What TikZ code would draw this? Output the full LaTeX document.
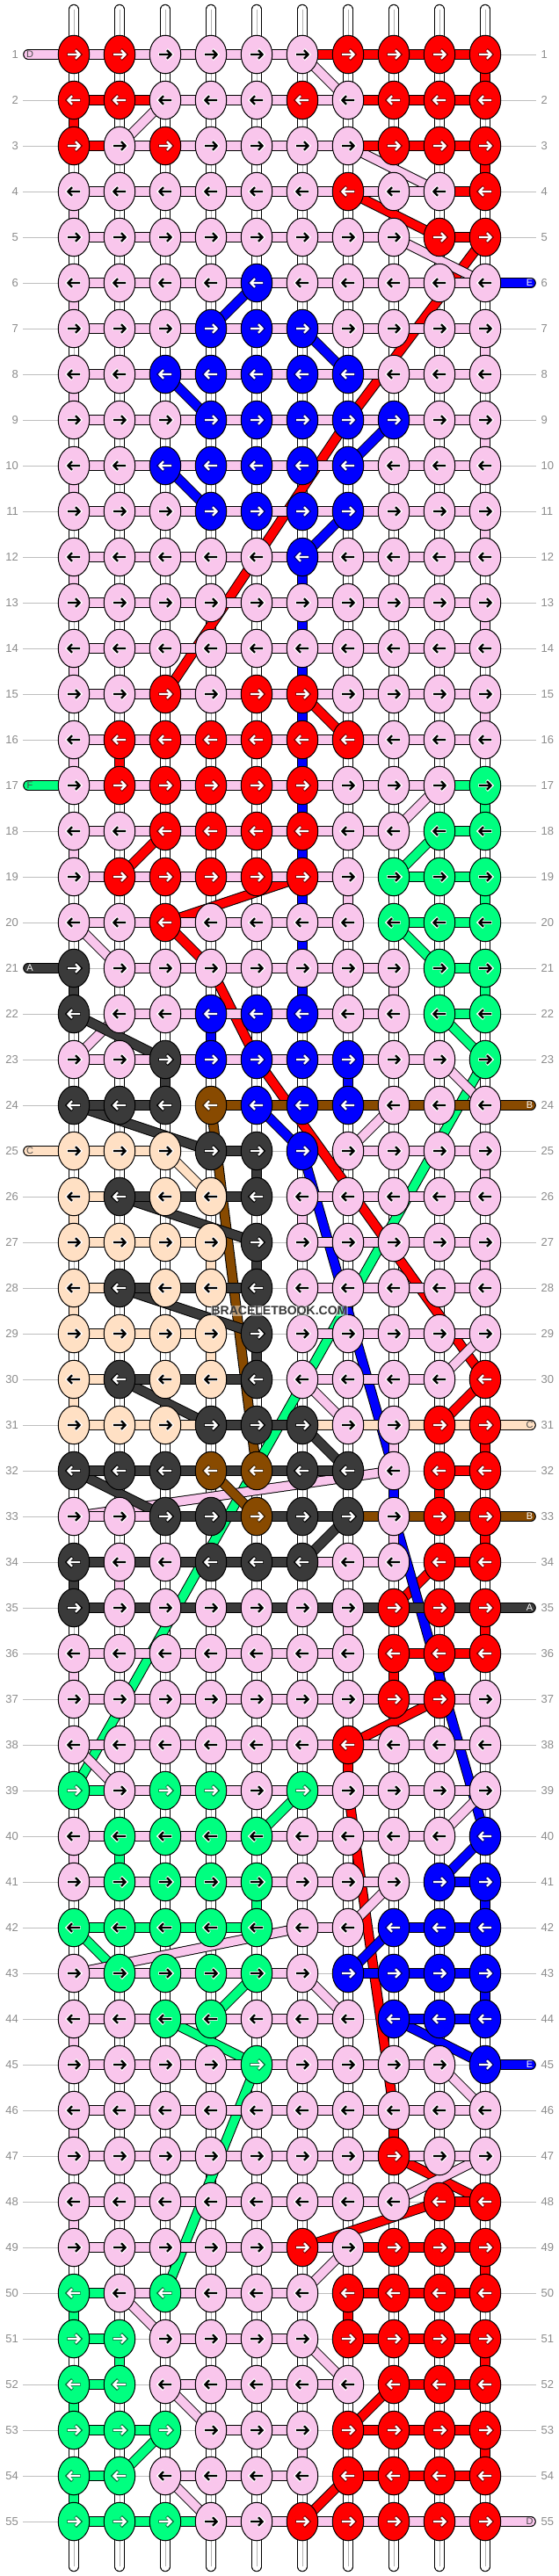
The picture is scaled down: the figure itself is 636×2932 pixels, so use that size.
\documentclass[tikz,border=0pt]{standalone}
\usepackage{fontspec}
\setmainfont{Liberation Sans}
\usetikzlibrary{shapes.geometric}
\pgfdeclarelayer{bg}\pgfsetlayers{bg,main}
\definecolor{cP}{RGB}{249,198,236}
\definecolor{cR}{RGB}{255,0,0}
\definecolor{cB}{RGB}{0,0,255}
\definecolor{cG}{RGB}{0,255,128}
\colorlet{cg}{cG}
\definecolor{cK}{RGB}{58,58,58}
\definecolor{cF}{RGB}{255,224,196}
\definecolor{cN}{RGB}{136,74,0}
\definecolor{labelgrey}{RGB}{140,140,140}
\definecolor{guidegrey}{RGB}{190,190,190}
% arrow halo and ink per knot colour
\colorlet{hP}{white}\colorlet{iP}{black}
\colorlet{hF}{white}\colorlet{iF}{black}
\colorlet{hG}{white}\colorlet{iG}{black}
\colorlet{hg}{black!55!cG}\colorlet{ig}{white}
\colorlet{hR}{black!50!cR}\colorlet{iR}{white}
\colorlet{hB}{black!50!cB}\colorlet{iB}{white}
\colorlet{hK}{black}\colorlet{iK}{white}
\colorlet{hN}{black!50!cN}\colorlet{iN}{white}
\tikzset{
  knot/.style={ellipse,draw=black,line width=1pt,minimum width=35.5pt,minimum height=43.5pt,inner sep=0pt},
  strand/.style={draw=black,line width=1pt,double=#1,double distance=9.6pt},
  core/.style={draw=black!30,line width=.7pt},
  guide/.style={draw=guidegrey,line width=1pt},
  rowlabel/.style={text=labelgrey,inner sep=0pt,font=\fontsize{13}{15}\selectfont},
  tailmark/.style={inner sep=0pt,font=\fontsize{11}{13}\selectfont},
}
\newcount\cc
\newcount\dd
\def\endwalk{\endwalk}
\def\walkA#1{\ifx#1\endwalk\else\bodyA{#1}\expandafter\walkA\fi}
\def\walkB#1{\ifx#1\endwalk\else\bodyB{#1}\expandafter\walkB\fi}
\def\bodyA#1{%
  \global\advance\cc by 1
  \node[knot,fill=c#1] (k-\rr-\the\cc) at ({84+52*(\the\cc-1)},{62+52*(\rr-1)}) {};
  \begin{scope}[shift={(k-\rr-\the\cc.center)},xscale=\ss,line cap=butt,miter limit=10]
    \draw[color=h#1,line width=3.9pt] (-7.6,0)--(7.6,0) (1.6,-5.6)--(7.4,0)--(1.6,5.6);
    \draw[color=i#1,line width=2.3pt] (-7,0)--(6.6,0) (2,-4.8)--(6.6,0)--(2,4.8);
  \end{scope}}
\def\bodyB#1{%
  \global\advance\cc by 1
  \dd=\cc \advance\dd by 1
  \ifx#1.\else\draw[strand=c#1] (k-\rr-\the\cc.center) -- (k-\rr-\the\dd.center);\fi}
\def\RowsAll{%
\Rw{1}{RRPPPPRRRR}{PPPPPRRRR}%
\Rw{2}{RRPPPRPRRR}{RRPPPPRRR}%
\Rw{3}{RPRPPPPRRR}{RPPPPPRRR}%
\Rw{4}{PPPPPPRPPR}{PPPPPPPPR}%
\Rw{5}{PPPPPPPPRR}{PPPPPPP.R}%
\Rw{6}{PPPPBPPPPP}{PPPPPPPPP}%
\Rw{7}{PPPBBBPPPP}{PPPPPPPPP}%
\Rw{8}{PPBBBBBPPP}{PPPPPPPPP}%
\Rw{9}{PPPBBBBBPP}{PPPPPPPPP}%
\Rw{10}{PPBBBBBPPP}{PPPPPPPPP}%
\Rw{11}{PPPBBBBPPP}{PPPPPPPPP}%
\Rw{12}{PPPPPBPPPP}{PPPPPPPPP}%
\Rw{13}{PPPPPPPPPP}{PPPPPPPPP}%
\Rw{14}{PPPPPPPPPP}{PPPPPPPPP}%
\Rw{15}{PPRPRRPPPP}{PPPPPPPPP}%
\Rw{16}{PRRRRRRPPP}{PPPPPPPPP}%
\Rw{17}{PRRRRRPPPG}{PPPPPPPPG}%
\Rw{18}{PPRRRRPPGG}{PPPPPPP.G}%
\Rw{19}{PRRRRRPGGG}{PPPPPP.GG}%
\Rw{20}{PPRPPPPGGG}{PPPPPP.GG}%
\Rw{21}{KPPPPPPPGG}{.PPPPPP.G}%
\Rw{22}{KPPBBBPPGG}{.PPPPPP.G}%
\Rw{23}{PPKBBBBPPG}{PPPPPPPP.}%
\Rw{24}{KKKNBBBPPP}{KK.NNNNNN}%
\Rw{25}{FFFKKBPPPP}{FF.K..PPP}%
\Rw{26}{FKFFKPPPPP}{FKKK.PPPP}%
\Rw{27}{FFFFKPPPPP}{FFF..PPPP}%
\Rw{28}{FKFFKPPPPP}{FKKK.PPPP}%
\Rw{29}{FFFFKPPPPP}{FFF..PPPP}%
\Rw{30}{FKFFKPPPPR}{FKKK.PPP.}%
\Rw{31}{FFFKKKPPRR}{FFFKKFFFF}%
\Rw{32}{KKKNNKKPRR}{KKKKKK..R}%
\Rw{33}{PPKKNKKPRR}{PPKKKKNNN}%
\Rw{34}{KPPKKKPPRR}{KKKKKPP.R}%
\Rw{35}{KPPPPPPRRR}{KKKKKKKKK}%
\Rw{36}{PPPPPPPRRR}{PPPPPP.RR}%
\Rw{37}{PPPPPPPRRP}{PPPPPPPPP}%
\Rw{38}{PPPPPPRPPP}{PPPPPPPPP}%
\Rw{39}{gPggPgPPPP}{GPPPPPPPP}%
\Rw{40}{PGGGGPPPPB}{PPPPPPPP.}%
\Rw{41}{PGGGGPPPBB}{PPPPPPP.B}%
\Rw{42}{GGGGGPPBBB}{GGGG.P.BB}%
\Rw{43}{PGGGGPBBBB}{PPPPP.BBB}%
\Rw{44}{PPGGPPPBBB}{PPPPPP.BB}%
\Rw{45}{PPPPgPPPPB}{PPPPPPPP.}%
\Rw{46}{PPPPPPPPPP}{PPPPPPPPP}%
\Rw{47}{PPPPPPPRPP}{PPPPPPPPP}%
\Rw{48}{PPPPPPPPRR}{PPPPPPP.R}%
\Rw{49}{PPPPPRPRRR}{PPPPPPRRR}%
\Rw{50}{gPgPPPRRRR}{GPPPP.RRR}%
\Rw{51}{ggPPPPRRRR}{G.PPP.RRR}%
\Rw{52}{ggPPPPPRRR}{G.PPPP.RR}%
\Rw{53}{gggPPPRRRR}{GG.PP.RRR}%
\Rw{54}{ggPPPPRRRR}{G.PPP.RRR}%
\Rw{55}{gggPPRRRRR}{GGGPPPPPP}%
}
\begin{document}
\begin{tikzpicture}[x=1pt,y=-1pt]
\useasboundingbox (0,0) rectangle (636,2932);
% knots and arrows
\def\Rw#1#2#3{\def\rr{#1}\ifodd#1 \def\ss{1}\else\def\ss{-1}\fi\global\cc=0 \walkA#2\endwalk}
\RowsAll
% row labels, guide ends, strand ends
\foreach \r in {1,...,55}{
  \pgfmathsetmacro\yy{62+52*(\r-1)}
  \node[rowlabel,anchor=east] (ll-\r) at (21,\yy) {\r};
  \node[rowlabel,anchor=west] (lr-\r) at (615.5,\yy) {\r};
  \coordinate (gl-\r) at (26,\yy);
  \coordinate (gr-\r) at (610,\yy);
}
\foreach \c in {1,...,10}{
  \pgfmathsetmacro\xx{84+52*(\c-1)}
  \coordinate (top-\c) at (\xx,10.6);
  \coordinate (bot-\c) at (\xx,2921.4);
}
\foreach \r/\s/\l/\t in {1/P/D/black!70,17/G/F/black!70,21/K/A/white,25/F/C/black!70}{
  \pgfmathsetmacro\yy{62+52*(\r-1)}
  \coordinate (tl-\r) at (32,\yy);
  \node[tailmark,text=\t] (ml-\r) at (34,\yy) {\l};
}
\foreach \r/\s/\l/\t in {6/B/E/white,24/N/B/white,31/F/C/black!70,33/N/B/white,35/K/A/white,45/B/E/white,55/P/D/black!70}{
  \pgfmathsetmacro\yy{62+52*(\r-1)}
  \coordinate (tr-\r) at (604,\yy);
  \node[tailmark,text=\t] (mr-\r) at (602.5,\yy) {\l};
}
\node[inner sep=1pt,fill=white,fill opacity=.45,text opacity=1,text=black!78,font=\fontsize{14}{16}\selectfont\bfseries] (wm) at (318,1492) {BRACELETBOOK.COM};
\begin{pgfonlayer}{bg}
\fill[white] (0,0) rectangle (636,2932);
\foreach \r in {1,...,55}{\draw[guide] (gl-\r) -- (gr-\r);}
% white warp strands
\foreach \c in {1,...,10}{
  \draw[strand=white,line cap=round] (top-\c) -- (k-1-\c.center);
  \draw[core] (top-\c) -- (k-1-\c.center);
  \draw[strand=white,line cap=round] (bot-\c) -- (k-55-\c.center);
  \draw[core] (bot-\c) -- (k-55-\c.center);
  \foreach \r in {1,...,54}{
    \pgfmathtruncatemacro\n{\r+1}
    \draw[strand=white] (k-\r-\c.center) -- (k-\n-\c.center);
    \draw[core] (k-\r-\c.center) -- (k-\n-\c.center);
  }
}
% diagonal runs, in stacking order
\foreach \ra/\ca/\rb/\cb/\s in {
  24/4/32/5/N,
  23/10/39/1/G,45/5/50/3/G,18/9/19/8/G,20/8/21/9/G,22/9/23/10/G,39/6/40/5/G,42/1/43/2/G,43/5/44/4/G,44/3/45/5/G,53/3/54/2/G,
  5/10/9/7/R,9/7/15/3/R,23/5/30/10/R,21/4/23/5/R,20/3/21/4/R,39/7/46/8/R,48/9/49/6/R,47/8/48/10/R,37/9/38/7/R,34/9/35/8/R,19/6/20/3/R,18/3/19/2/R,15/6/16/7/R,4/7/5/9/R,30/10/31/9/R,52/8/53/7/R,54/7/55/6/R,
  6/5/7/4/B,7/6/8/7/B,8/3/9/4/B,9/8/10/7/B,10/3/11/4/B,11/7/12/6/B,24/5/25/6/B,25/6/32/8/B,33/8/40/10/B,40/10/41/9/B,42/8/43/7/B,44/8/45/10/B,
  1/6/2/7/P,2/3/3/2/P,3/7/4/9/P,5/8/6/10/P,17/9/18/8/P,20/1/21/2/P,23/1/22/2/P,23/9/24/10/P,25/7/24/8/P,30/6/31/7/P,30/9/29/10/P,33/1/32/8/P,38/1/39/2/P,40/9/39/10/P,41/8/42/7/P,42/6/43/1/P,43/6/44/7/P,45/9/46/10/P,47/10/48/8/P,49/7/50/6/P,50/2/51/3/P,51/6/52/7/P,52/3/53/4/P,54/3/55/4/P,
  25/3/26/4/F,
  22/1/23/3/K,24/1/25/4/K,26/2/27/5/K,28/2/29/5/K,30/2/31/4/K,31/6/32/7/K,32/1/33/3/K,33/7/34/6/K,
  32/4/33/5/N}{
  \draw[strand=c\s] (k-\ra-\ca.center) -- (k-\rb-\cb.center);
}
% coloured vertical runs
\foreach \r/\c/\s in {
  1/10/R,2/1/R,3/10/R,4/1/P,6/1/P,7/10/P,8/1/P,9/10/P,10/1/P,11/10/P,12/1/P,13/10/P,14/1/P,15/10/P,16/1/P,16/2/R,
  12/6/B,13/6/B,14/6/B,15/6/B,16/6/B,17/6/B,18/6/B,19/6/B,20/6/B,21/6/B,
  17/10/G,18/1/P,19/7/P,19/10/G,21/1/K,21/8/P,21/10/G,22/4/B,23/3/K,23/7/B,
  25/5/K,25/10/P,26/1/F,26/6/P,27/4/F,27/5/K,27/10/P,28/1/F,29/4/F,29/5/K,30/1/F,31/8/P,31/10/R,
  32/8/B,32/9/R,33/8/P,33/10/R,34/1/K,34/2/P,35/7/P,35/10/R,36/1/P,36/8/R,37/10/P,38/7/R,
  40/1/P,40/2/G,41/5/G,41/10/B,43/10/B,44/1/P,46/1/P,46/8/R,48/1/P,49/10/R,50/1/G,50/7/R,
  51/2/G,51/10/R,52/1/G,53/6/P,53/10/R,54/1/G}{
  \pgfmathtruncatemacro\n{\r+1}
  \draw[strand=c\s] (k-\r-\c.center) -- (k-\n-\c.center);
}
% horizontal runs
\def\Rw#1#2#3{\def\rr{#1}\global\cc=0 \walkB#3\endwalk}
\RowsAll
% tails
\foreach \r/\s in {1/P,17/G,21/K,25/F}{
  \draw[strand=c\s,line cap=round] (tl-\r) -- (k-\r-1.center);
}
\foreach \r/\s in {6/B,24/N,31/F,33/N,35/K,45/B,55/P}{
  \draw[strand=c\s,line cap=round] (tr-\r) -- (k-\r-10.center);
}
\end{pgfonlayer}
\end{tikzpicture}
\end{document}
